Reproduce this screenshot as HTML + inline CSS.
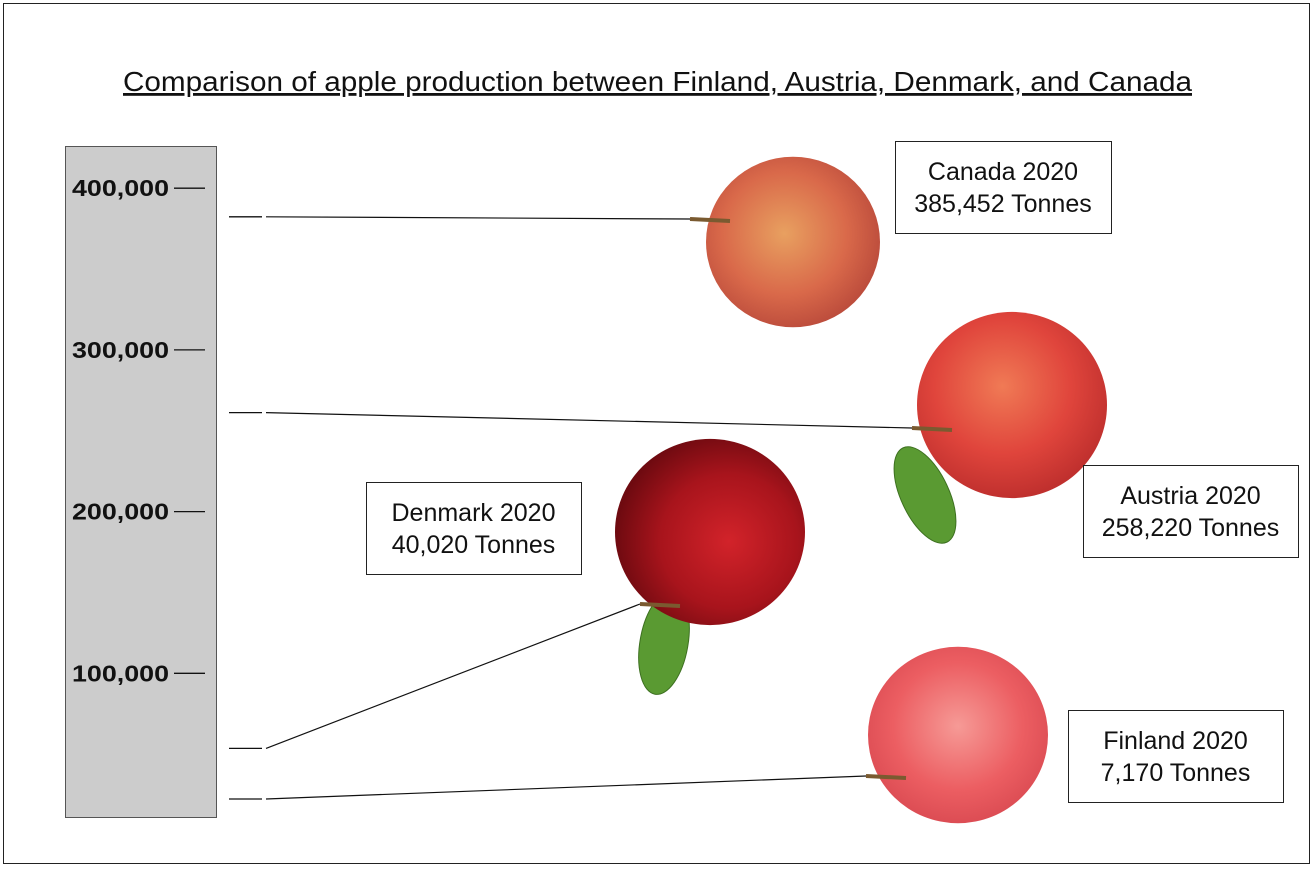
<!DOCTYPE html>
<html><head><meta charset="utf-8">
<style>
html,body{margin:0;padding:0;background:#fff;}
body{width:1314px;height:868px;position:relative;overflow:hidden;font-family:"Liberation Sans",sans-serif;}
</style></head>
<body>
<svg id="chart" width="1314" height="868" viewBox="0 0 1314 868" xmlns="http://www.w3.org/2000/svg">
<defs>
<radialGradient id="gCanada" cx="0.45" cy="0.45" r="0.6"><stop offset="0" stop-color="#e8a060"/><stop offset="0.6" stop-color="#d9694a"/><stop offset="1" stop-color="#b8483a"/></radialGradient>
<radialGradient id="gAustria" cx="0.45" cy="0.4" r="0.6"><stop offset="0" stop-color="#f07a55"/><stop offset="0.6" stop-color="#e0453c"/><stop offset="1" stop-color="#c0302e"/></radialGradient>
<radialGradient id="gDenmark" cx="0.6" cy="0.55" r="0.6"><stop offset="0" stop-color="#d2232a"/><stop offset="0.6" stop-color="#a8141c"/><stop offset="1" stop-color="#6e0a10"/></radialGradient>
<radialGradient id="gFinland" cx="0.5" cy="0.45" r="0.6"><stop offset="0" stop-color="#f69a96"/><stop offset="0.6" stop-color="#ec5e62"/><stop offset="1" stop-color="#d84850"/></radialGradient>
</defs>
<rect x="3.5" y="3.5" width="1306" height="860" fill="#fff" stroke="#222" stroke-width="1"/>
<text x="123" y="91" textLength="1069" lengthAdjust="spacingAndGlyphs" font-size="28" text-decoration="underline" fill="#111">Comparison of apple production between Finland, Austria, Denmark, and Canada</text>
<rect x="65.5" y="146.5" width="151" height="671" fill="#cccccc" stroke="#555" stroke-width="1"/>
<g id="ticks"></g>
<g id="apples"></g>
<g id="marks"></g>
</svg>
<script>
const countries = ["Canada", "Austria", "Denmark", "Finland"];
const years = [2020, 2020, 2020, 2020];
const values = [385452, 258220, 40020, 7170];
const valueLabels = ["385,452", "258,220", "40,020", "7,170"];
const tickValues = [100000, 200000, 300000, 400000];
const tickLabels = ["100,000", "200,000", "300,000", "400,000"];

const svg = document.getElementById('chart');
const NS = 'http://www.w3.org/2000/svg';
function tickY(v){ return 835 - v * 161.7 / 100000; }
function markY(v){ return 810 - v * 153.9 / 100000; }
function mk(tag, attrs, parent){ const e=document.createElementNS(NS,tag); for(const k in attrs) e.setAttribute(k,attrs[k]); parent.appendChild(e); return e; }

const tg = document.getElementById('ticks');
tickValues.forEach((v,i)=>{
  const y = tickY(v);
  const t = mk('text',{x:72,y:y+8,textLength:97,lengthAdjust:'spacingAndGlyphs','font-size':'23','font-weight':'bold',fill:'#111'},tg);
  t.textContent = tickLabels[i];
  
  
  const l = mk('line',{x1:174,x2:205,y1:y,y2:y,stroke:'#111','stroke-width':1.3},tg);
  
  
});

const cfg = {
  Canada:{cx:793,cy:242,r:87,grad:'gCanada',stem:[690,219],box:[895,141,216,92],leaf:null},
  Austria:{cx:1012,cy:405,r:95,grad:'gAustria',stem:[912,428],box:[1083,465,215,92],leaf:[925,495,-25]},
  Denmark:{cx:710,cy:532,r:95,grad:'gDenmark',stem:[640,604],box:[366,482,215,92],leaf:[664,643,10]},
  Finland:{cx:958,cy:735,r:90,grad:'gFinland',stem:[866,776],box:[1068,710,215,92],leaf:null}
};
const ag = document.getElementById('apples');
const mg = document.getElementById('marks');
countries.forEach((c,i)=>{
  const k = cfg[c];
  const g = mk('g',{},ag);
  
  
  if(k.leaf){
    mk('ellipse',{cx:k.leaf[0],cy:k.leaf[1],rx:24,ry:52,fill:'#5a9a32',stroke:'#3d7020','stroke-width':1,transform:'rotate('+k.leaf[2]+' '+k.leaf[0]+' '+k.leaf[1]+')'},g);
  }
  mk('ellipse',{cx:k.cx,cy:k.cy,rx:k.r,ry:k.r*0.98,fill:'url(#'+k.grad+')'},g);
  mk('line',{x1:k.stem[0],y1:k.stem[1],x2:k.stem[0]+40,y2:k.stem[1]+2,stroke:'#7a5a30','stroke-width':4},g);

  const y = markY(values[i]);
  const d = mk('line',{x1:229,x2:262,y1:y,y2:y,stroke:'#111','stroke-width':1.3},mg);
  
  
  const ln = mk('line',{x1:266,y1:y,x2:k.stem[0],y2:k.stem[1],stroke:'#111','stroke-width':1.2},mg);
  
  

  const bg = mk('g',{},mg);
  
  
  const b = k.box;
  mk('rect',{x:b[0]+0.5,y:b[1]+0.5,width:b[2],height:b[3],fill:'#fff',stroke:'#222','stroke-width':1},bg);
  const t1 = mk('text',{x:b[0]+b[2]/2,y:b[1]+39,'text-anchor':'middle','font-size':'25',fill:'#111'},bg);
  t1.textContent = c + ' ' + years[i];
  const t2 = mk('text',{x:b[0]+b[2]/2,y:b[1]+71,'text-anchor':'middle','font-size':'25',fill:'#111'},bg);
  t2.textContent = valueLabels[i] + ' Tonnes';
});
</script>
</body></html>
